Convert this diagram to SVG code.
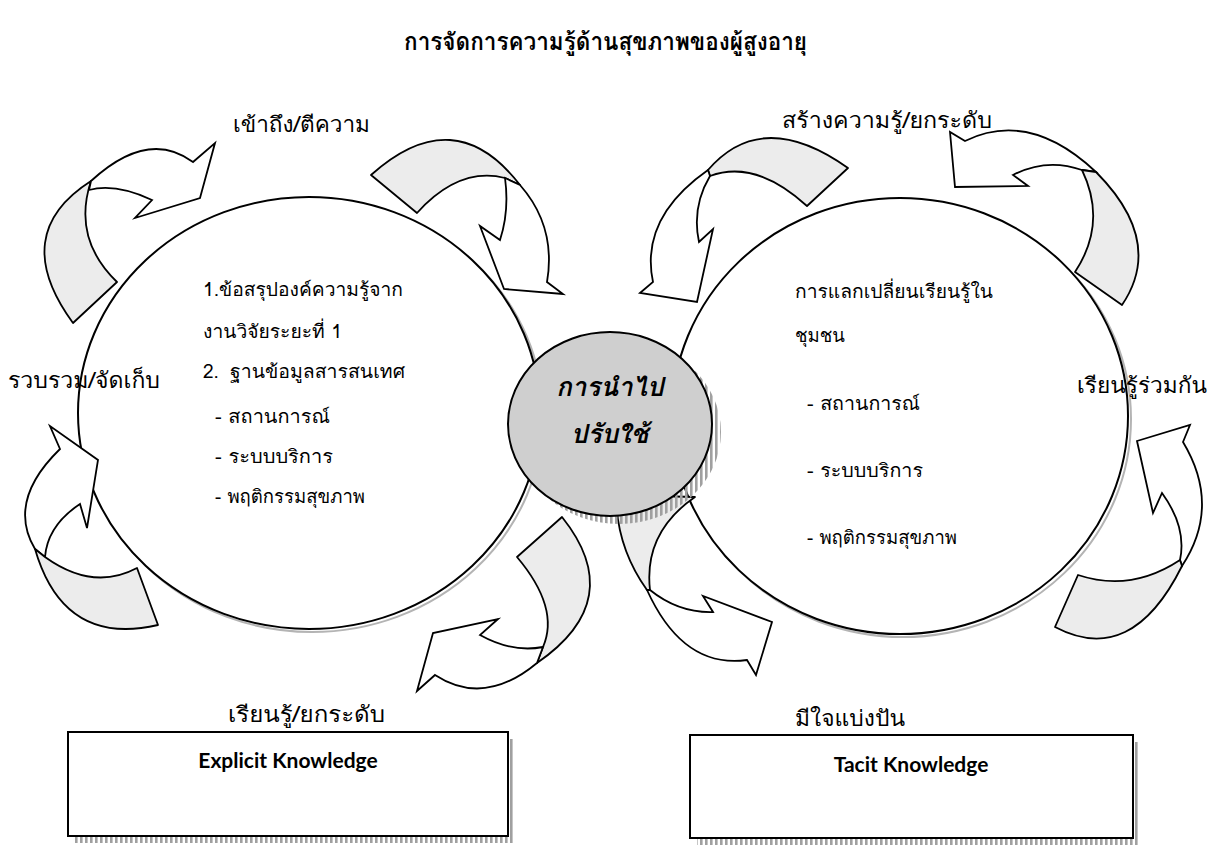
<svg xmlns="http://www.w3.org/2000/svg" width="1211" height="855" viewBox="0 0 1211 855">
<defs>
<pattern id="hatch" width="5" height="10" patternUnits="userSpaceOnUse"><rect width="2.6" height="10" fill="#a0a0a0"/></pattern>
<style>
.big{fill:#fff;stroke:#000;stroke-width:2}
.bigsh{fill:none;stroke:#b4b4b4;stroke-width:2}
.sh{fill:#ececec;stroke:#000;stroke-width:1.8;stroke-linejoin:round}
.wh{fill:#fff;stroke:#000;stroke-width:1.8;stroke-linejoin:miter}
.lbl{font-family:"Loma","Garuda","Tahoma","Noto Sans Thai Looped","Noto Sans Thai","Noto Sans","DejaVu Sans",sans-serif;font-size:22px;fill:#000}
.ctx{font-family:"Loma","Tahoma","Garuda","Noto Sans Thai Looped","Noto Sans Thai","Noto Sans","DejaVu Sans",sans-serif;font-size:19px;fill:#000}
.ttl{font-family:"Loma","Tahoma","Garuda","Noto Sans Thai Looped","Noto Sans Thai","Noto Sans","DejaVu Sans",sans-serif;font-size:24px;font-weight:bold;fill:#000}
.ctr{font-family:"Loma","Tahoma","Garuda","Noto Sans Thai Looped","Noto Sans Thai","Noto Sans","DejaVu Sans",sans-serif;font-size:26px;font-weight:bold;font-style:italic;fill:#000}
.box{fill:#fff;stroke:#000;stroke-width:2}
.btx{font-family:Lato,"Open Sans",sans-serif;font-size:21px;font-weight:bold;fill:#000}
</style>
</defs>
<rect width="1211" height="855" fill="#fff"/>

<text class="ttl" x="404" y="50" textLength="403" lengthAdjust="spacingAndGlyphs">การจัดการความรู้ด้านสุขภาพของผู้สูงอายุ</text>

<g id="explicit-circle">
<ellipse class="bigsh" cx="312" cy="416" rx="231" ry="216"/>
<ellipse class="big" cx="309" cy="413" rx="231" ry="216"/>
</g>
<g id="tacit-circle">
<ellipse class="bigsh" cx="903" cy="419" rx="228" ry="218"/>
<ellipse class="big" cx="900" cy="416" rx="228" ry="218"/>
</g>

<g id="connectors">
<g id="arrow-access">
<path class="sh" d="M73,323 Q8,234 91,181 Q72,238.5 117,282 Z"/>
<path class="wh" d="M91,181 Q148,128.5 193,162 L215,143 L200,198 L135,218 L152,200 Q115.5,183 89,190 Z"/>
</g>
<g id="arrow-top-left">
<path class="sh" d="M371,175 Q454.5,100 520,185 L505,178 Q459,166.5 417,213 Z"/>
<path class="wh" d="M505,178 Q509.5,211 500,240 L480,226 L504,289 L563,294 L547,282 Q556.5,226.5 520,185 Z"/>
</g>
<g id="arrow-create">
<path class="sh" d="M848,168 Q762,107 708,170 L710,176 Q755.5,159 807,206 Z"/>
<path class="wh" d="M708,170 Q639.5,218 653,282 L640,293 L697,302 L713,229 L699,242 Q691.5,207 710,176 Z"/>
</g>
<g id="arrow-top-right">
<path class="wh" d="M965,141 Q1029.5,109.5 1096,172 L1082,170 Q1046.5,157.5 1013,175 L1028,186 L955,187 L950,132 Z"/>
<path class="sh" d="M1096,172 Q1165,241.5 1122,305 L1075,272 Q1107.5,223 1082,170 Z"/>
</g>
<g id="arrow-collect">
<path class="wh" d="M60,449 L50,426 L98,460 L87,528 L80,504 Q47.5,525.5 45,557 L35,549 Q6.5,501 60,449 Z"/>
<path class="sh" d="M45,557 Q93,591.5 137,568 L158,625 Q63.5,647 35,549 Z"/>
</g>
<g id="arrow-learn">
<path class="sh" d="M562,517 Q628.5,600 537,663 L543,647 Q560,608 517,557 Z"/>
<path class="wh" d="M543,647 Q512.5,653 480,635 L498,619 L433,633 L417,691 L435,675 Q484,707 537,663 Z"/>
</g>
<g id="arrow-share">
<path class="sh" d="M616,495 Q616.5,547.5 647,590 L650,590 Q643.5,532.5 695,497 Z"/>
<path class="wh" d="M650,590 Q678.5,613 713,612 L703,596 L772,622 L756,675 L747,660 Q683,669 647,590 Z"/>
</g>
<g id="arrow-together">
<path class="wh" d="M1183,442 L1190,425 L1137,441 L1153,513 L1162,493 Q1187,527.5 1180,560 L1182,566 Q1221.5,506 1183,442 Z"/>
<path class="sh" d="M1180,560 Q1131,592.5 1078,575 L1055,627 Q1131.5,667.5 1182,566 Z"/>
</g>
</g>

<g id="apply-node">
<ellipse cx="619" cy="432" rx="102" ry="92" fill="url(#hatch)"/>
<ellipse cx="610" cy="424" rx="102" ry="92" fill="#cfcfcf" stroke="#000" stroke-width="2"/>
<text class="ctr" x="610" y="396" text-anchor="middle">การนำไป</text>
<text class="ctr" x="610" y="443" text-anchor="middle">ปรับใช้</text>
</g>

<g id="explicit-text">
<text class="ctx" x="203" y="296" textLength="200" lengthAdjust="spacingAndGlyphs">1.ข้อสรุปองค์ความรู้จาก</text>
<text class="ctx" x="203" y="338" textLength="139" lengthAdjust="spacingAndGlyphs">งานวิจัยระยะที่ 1</text>
<text class="ctx" x="203" y="378">2.</text>
<text class="ctx" x="230" y="378" textLength="175" lengthAdjust="spacingAndGlyphs">ฐานข้อมูลสารสนเทศ</text>
<text class="ctx" x="215" y="423" textLength="115" lengthAdjust="spacingAndGlyphs">- สถานการณ์</text>
<text class="ctx" x="215" y="463" textLength="118" lengthAdjust="spacingAndGlyphs">- ระบบบริการ</text>
<text class="ctx" x="215" y="503" textLength="150" lengthAdjust="spacingAndGlyphs">- พฤติกรรมสุขภาพ</text>
</g>
<g id="tacit-text">
<text class="ctx" x="795" y="298" textLength="198" lengthAdjust="spacingAndGlyphs">การแลกเปลี่ยนเรียนรู้ใน</text>
<text class="ctx" x="795" y="342" textLength="50" lengthAdjust="spacingAndGlyphs">ชุมชน</text>
<text class="ctx" x="807" y="410" textLength="113" lengthAdjust="spacingAndGlyphs">- สถานการณ์</text>
<text class="ctx" x="807" y="477" textLength="116" lengthAdjust="spacingAndGlyphs">- ระบบบริการ</text>
<text class="ctx" x="807" y="544" textLength="150" lengthAdjust="spacingAndGlyphs">- พฤติกรรมสุขภาพ</text>
</g>

<g id="labels">
<text class="lbl" x="233" y="132" textLength="137" lengthAdjust="spacingAndGlyphs">เข้าถึง/ตีความ</text>
<text class="lbl" x="782" y="128" textLength="210" lengthAdjust="spacingAndGlyphs">สร้างความรู้/ยกระดับ</text>
<text class="lbl" x="8" y="388" textLength="152" lengthAdjust="spacingAndGlyphs">รวบรวม/จัดเก็บ</text>
<text class="lbl" x="1077" y="393" textLength="130" lengthAdjust="spacingAndGlyphs">เรียนรู้ร่วมกัน</text>
<text class="lbl" x="228" y="722" textLength="157" lengthAdjust="spacingAndGlyphs">เรียนรู้/ยกระดับ</text>
<text class="lbl" x="795" y="726" textLength="110" lengthAdjust="spacingAndGlyphs">มีใจแบ่งปัน</text>
</g>

<g id="explicit-box">
<rect x="75" y="739" width="440" height="104" fill="url(#hatch)"/>
<rect class="box" x="68" y="732" width="440" height="104"/>
<text class="btx" x="288" y="768" text-anchor="middle">Explicit Knowledge</text>
</g>
<g id="tacit-box">
<rect x="697" y="742" width="443" height="103" fill="url(#hatch)"/>
<rect class="box" x="690" y="735" width="443" height="103"/>
<text class="btx" x="911" y="772" text-anchor="middle">Tacit Knowledge</text>
</g>
</svg>
